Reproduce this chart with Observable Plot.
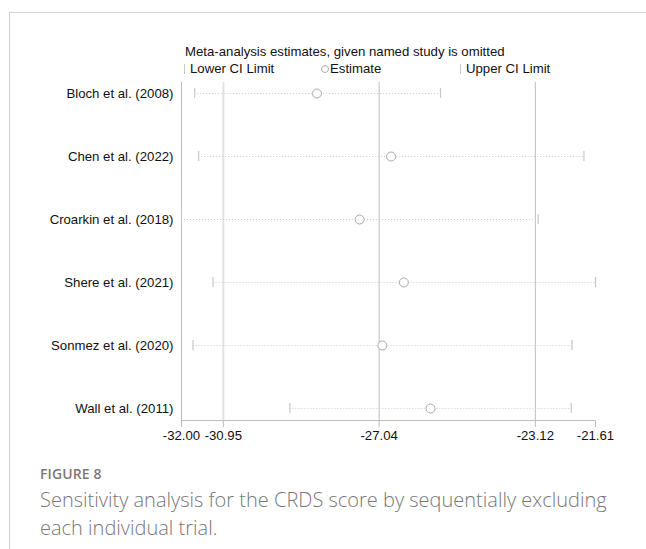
<!DOCTYPE html>
<html>
<head>
<meta charset="utf-8">
<script src="https://cdn.jsdelivr.net/npm/d3@7"></script>
<script src="https://cdn.jsdelivr.net/npm/@observablehq/plot@0.6"></script>
<style>
  html, body { margin: 0; padding: 0; background: #fff; }
  body { width: 646px; height: 549px; position: relative; overflow: hidden; }
  #card { position: absolute; left: 9px; top: 12px; right: -2px; bottom: -2px;
          border-top: 1px solid #d2d2d2; border-left: 1px solid #d2d2d2; }
  .chart-text { font-family: "Liberation Sans", Arial, sans-serif; color: #111; font-size: 13.2px; }
  #title { position: absolute; left: 185px; top: 44px; white-space: nowrap; }
  .leg { position: absolute; top: 61px; white-space: nowrap; display: flex; align-items: center; }
  .bar { display: inline-block; width: 1px; height: 10px; background: #c8c8c8; margin-right: 5px; }
  .ring { display: inline-block; width: 6px; height: 6px; border: 1px solid #aaa; border-radius: 50%; margin-right: 1px; }
  #plot { position: absolute; left: 0; top: 76px; }
  #fig { position: absolute; left: 40px; top: 464px; font-family: "Open Sans", "Noto Sans", sans-serif;
         font-weight: 600; font-size: 14px; color: #7a7a7a; letter-spacing: 0.1px; }
  #caption { position: absolute; left: 40px; top: 486px; width: 600px; font-family: "Open Sans", "Noto Sans", sans-serif;
             font-weight: 300; font-size: 20px; line-height: 28px; color: #777; }
</style>
</head>
<body>
<div id="card"></div>
<div id="title" class="chart-text">Meta-analysis estimates, given named study is omitted</div>
<div class="leg chart-text" style="left:184px"><span class="bar"></span>Lower CI Limit</div>
<div class="leg chart-text" style="left:321px"><span class="ring"></span>Estimate</div>
<div class="leg chart-text" style="left:460px"><span class="bar"></span>Upper CI Limit</div>
<div id="plot"></div>
<div id="fig">FIGURE 8</div>
<div id="caption">Sensitivity analysis for the CRDS score by sequentially excluding each individual trial.</div>
<script>
// Leave-one-out meta-analysis: pooled estimate and 95% CI with each study omitted
const studies = ["Bloch et al. (2008)", "Chen et al. (2022)", "Croarkin et al. (2018)",
                 "Shere et al. (2021)", "Sonmez et al. (2020)", "Wall et al. (2011)"];
const estimate = [-28.60, -26.74, -27.53, -26.42, -26.96, -25.75];
const lowerCI  = [-31.67, -31.57, -32.00, -31.21, -31.71, -29.28];
const upperCI  = [-25.50, -21.90, -23.05, -21.61, -22.20, -22.22];

// Overall pooled estimate and its CI limits (reference lines)
const pooledLower = [-30.95];
const pooledLines = [-27.04, -23.12];

const xTicks = [-32.00, -30.95, -27.04, -23.12, -21.61];

const rows = studies.map((s, i) => ({study: s, est: estimate[i], lo: lowerCI[i], hi: upperCI[i]}));

const axisGray = "#bdbdbd";
const chart = Plot.plot({
  width: 646,
  height: 380,
  marginTop: 6,
  marginBottom: 36,
  marginLeft: 181,
  marginRight: 51,
  style: {fontFamily: "Liberation Sans, Arial, sans-serif", fontSize: "13.2px", color: "#111", background: "transparent"},
  x: {domain: [xTicks[0], xTicks[xTicks.length - 1]]},
  y: {type: "band", domain: studies, paddingInner: 0.84, paddingOuter: 0.095},
  marks: [
    Plot.ruleX(pooledLower, {stroke: "#e2e2e2", strokeWidth: 2}),
    Plot.ruleX(pooledLines, {stroke: axisGray}),
    Plot.ruleX([xTicks[0]], {stroke: axisGray}),
    Plot.frame({anchor: "bottom", stroke: axisGray}),
    Plot.axisX({ticks: xTicks, tickSize: 7, stroke: axisGray, tickPadding: 3,
                tickFormat: d => d.toFixed(2), fill: "#111", fontSize: 13.2, label: null}),
    Plot.axisY({tickSize: 0, tickPadding: 8, fill: "#111", fontSize: 13.2, label: null}),
    Plot.ruleY(rows, {y: "study", x1: "lo", x2: "hi", stroke: "#cccccc", strokeDasharray: "1,2"}),
    Plot.tickX(rows, {x: "lo", y: "study", stroke: "#c8c8c8", strokeWidth: 1.2}),
    Plot.tickX(rows, {x: "hi", y: "study", stroke: "#c8c8c8", strokeWidth: 1.2}),
    Plot.dot(rows, {x: "est", y: "study", r: 4.5, stroke: "#a8a8a8", fill: "white", strokeWidth: 1})
  ]
});
document.getElementById("plot").appendChild(chart);
</script>
</body>
</html>
